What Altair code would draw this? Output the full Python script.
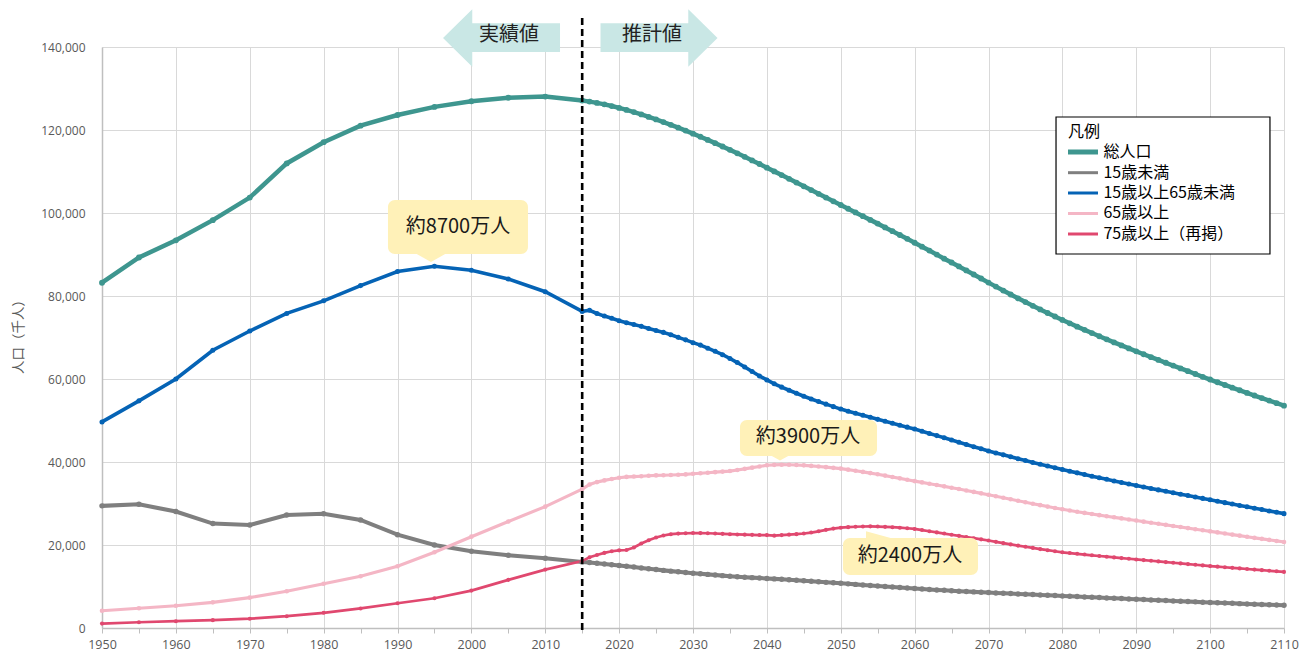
import altair as alt
import pandas as pd

FONT = "Noto Sans CJK JP"
NUMFONT = "Open Sans"

# ---------------- data ----------------
hist_years = list(range(1950, 2016, 5))
proj_years = list(range(2016, 2111))

series_names = ["総人口", "15歳未満", "15歳以上65歳未満", "65歳以上", "75歳以上（再掲）"]
series_colors = ["#3E968F", "#7F7F7F", "#0563B5", "#F4B6C5", "#E0486F"]

total_hist = [83200, 89276, 93419, 98275, 103720, 111940, 117060, 121049, 123611,
              125570, 126926, 127768, 128057, 127095]
u15_hist = [29428, 29798, 28067, 25166, 24823, 27221, 27507, 26033, 22486, 20014,
            18472, 17521, 16803, 15887]
w_hist = [49658, 54729, 60002, 66928, 71566, 75807, 78835, 82506, 85904, 87165,
          86220, 84092, 81032, 76289]
o65_hist = [4155, 4747, 5350, 6181, 7331, 8865, 10647, 12468, 14895, 18261, 22005,
            25672, 29246, 33465]
o75_hist = [1069, 1388, 1637, 1894, 2237, 2841, 3660, 4712, 5973, 7170, 9008,
            11602, 14072, 16125]

total_proj = [
    126838, 126532, 126177, 125773, 125325,
    124836, 124310, 123751, 123161, 122544,
    121903, 121240, 120555, 119850, 119125,
    118380, 117616, 116833, 116033, 115216,
    114383, 113535, 112674, 111801, 110919,
    110028, 109131, 108229, 107326, 106421,
    105518, 104616, 103716, 102819, 101923,
    101029, 100135, 99240, 98342, 97441,
    96534, 95622, 94704, 93776, 92840,
    91894, 90938, 89973, 88999, 88077,
    87120, 86160, 85190, 84210, 83227,
    82260, 81310, 80370, 79440, 78530,
    77640, 76760, 75900, 75060, 74230,
    73420, 72620, 71840, 71070, 70310,
    69560, 68820, 68090, 67370, 66660,
    65960, 65270, 64590, 63910, 63240,
    62560, 61880, 61200, 60530, 59870,
    59210, 58560, 57920, 57280, 56650,
    56020, 55400, 54790, 54180, 53580,
]
u15_proj = [
    15780, 15592, 15424, 15254, 15075,
    14883, 14681, 14476, 14272, 14073,
    13883, 13702, 13530, 13367, 13212,
    13064, 12920, 12779, 12618, 12457,
    12344, 12237, 12136, 12037, 11936,
    11834, 11729, 11619, 11504, 11384,
    11259, 11130, 10999, 10883, 10767,
    10638, 10508, 10379, 10250, 10123,
    9998, 9876, 9748, 9627, 9508,
    9395, 9287, 9181, 9077, 8975,
    8880, 8790, 8700, 8615, 8530,
    8450, 8370, 8290, 8210, 8130,
    8050, 7970, 7890, 7810, 7730,
    7650, 7570, 7490, 7410, 7330,
    7250, 7170, 7090, 7010, 6930,
    6850, 6770, 6690, 6610, 6530,
    6450, 6375, 6300, 6225, 6150,
    6080, 6010, 5940, 5870, 5800,
    5735, 5670, 5605, 5540, 5480,
]
w_proj = [
    76562, 75782, 75158, 74622, 74058,
    73550, 73130, 72683, 72181, 71701,
    71231, 70645, 70036, 69432, 68754,
    68166, 67420, 66673, 65855, 64942,
    63958, 62899, 61795, 60728, 59777,
    58850, 58036, 57292, 56562, 55845,
    55186, 54555, 53940, 53338, 52750,
    52230, 51740, 51250, 50760, 50276,
    49800, 49330, 48860, 48400, 47928,
    47420, 46890, 46360, 45820, 45291,
    44760, 44220, 43690, 43170, 42660,
    42190, 41720, 41250, 40790, 40340,
    39900, 39470, 39040, 38620, 38200,
    37790, 37380, 36980, 36590, 36200,
    35820, 35440, 35070, 34700, 34340,
    33980, 33630, 33280, 32930, 32590,
    32250, 31910, 31570, 31230, 30890,
    30550, 30210, 29870, 29530, 29200,
    28870, 28540, 28210, 27880, 27560,
]
o65_proj = [
    34591, 35152, 35568, 35887, 36192,
    36404, 36491, 36569, 36678, 36771,
    36811, 36857, 36930, 37012, 37160,
    37290, 37420, 37550, 37690, 37817,
    38080, 38350, 38640, 38930, 39206,
    39315, 39352, 39330, 39270, 39192,
    39060, 38920, 38760, 38590, 38406,
    38160, 37900, 37620, 37330, 37042,
    36720, 36390, 36060, 35730, 35403,
    35090, 34770, 34450, 34130, 33810,
    33480, 33140, 32800, 32450, 32100,
    31740, 31380, 31020, 30660, 30300,
    29950, 29600, 29260, 28930, 28600,
    28300, 28010, 27730, 27460, 27190,
    26930, 26670, 26410, 26150, 25890,
    25630, 25370, 25110, 24850, 24590,
    24330, 24070, 23810, 23550, 23290,
    23030, 22770, 22510, 22250, 21990,
    21730, 21480, 21230, 20980, 20730,
]
o75_proj = [
    17050, 17600, 18100, 18500, 18719,
    18800, 19400, 20350, 21150, 21800,
    22300, 22600, 22750, 22830, 22884,
    22870, 22830, 22770, 22690, 22597,
    22540, 22490, 22440, 22400, 22392,
    22250, 22380, 22500, 22620, 22769,
    23000, 23300, 23650, 23950, 24170,
    24300, 24400, 24460, 24490, 24451,
    24380, 24290, 24170, 24030, 23866,
    23600, 23320, 23040, 22760, 22478,
    22200, 21920, 21640, 21360, 21080,
    20760, 20450, 20150, 19860, 19580,
    19300, 19020, 18750, 18490, 18240,
    18060, 17880, 17700, 17520, 17350,
    17180, 17010, 16840, 16680, 16520,
    16360, 16200, 16040, 15880, 15720,
    15560, 15400, 15240, 15080, 14920,
    14780, 14640, 14500, 14360, 14220,
    14080, 13940, 13800, 13660, 13520,
]

boundary_year = [2015]

# annotations (data coordinates)
arrow_x = [2004.08, 2025.40]
arrow_y = [142170, 142170]
arrow_paths = [
    "M-1,0L-0.5,-0.49L-0.5,-0.25L1,-0.25L1,0.24L-0.5,0.24L-0.5,0.49Z",
    "M1,0L0.5,-0.49L0.5,-0.25L-1,-0.25L-1,0.24L0.5,0.24L0.5,0.49Z",
]
arrow_text = ["実績値", "推計値"]
arrow_text_x = [2005.09, 2024.45]
arrow_text_y = [142890, 142890]

callout_text = ["約8700万人", "約3900万人", "約2400万人"]
callout_text_x = [1998.19, 2045.57, 2059.37]
callout_text_y = [96627, 46024, 17349]
callout_x1 = [1988.71, 2036.36, 2050.30]
callout_x2 = [2007.66, 2054.91, 2068.58]
callout_y1 = [103133, 50120, 21687]
callout_y2 = [90120, 41446, 12771]
pointer_x = [1994.53, 2041.78, 2055.52]
pointer_y = [90361, 41687, 21446]
pointer_paths = ["M-1,0L1,0L0,0.56Z", "M-1,0L1,0L0,0.56Z", "M-1,0.05L-1,-0.5L1,0.05Z"]
pointer_sizes = [1024, 400, 961]

# legend (drawn as marks)
legend_title = "凡例"
legend_title_pos = (2080.76, 119518)
legend_box_x = [2079.14, 2108.10]
legend_box_y = [123133, 90120]
legend_line_x = [2080.76, 2084.82]
legend_label_x = 2085.55
legend_row_y = [114699, 109711, 104819, 99880, 94940]
legend_widths = [5, 3, 3, 3, 3]

# ---------------- tables ----------------
hists = [total_hist, u15_hist, w_hist, o65_hist, o75_hist]
projs = [total_proj, u15_proj, w_proj, o65_proj, o75_proj]
rows = []
for name, h, p in zip(series_names, hists, projs):
    assert len(h) == len(hist_years) and len(p) == len(proj_years)
    for yr, v in zip(hist_years + proj_years, h + p):
        rows.append({"year": yr, "value": v, "series": name})
df = pd.DataFrame(rows)

x_scale = alt.Scale(domain=[1950, 2110], nice=False, zero=False)
y_scale = alt.Scale(domain=[0, 140000], nice=False)

x_axis = alt.Axis(
    title=None,
    values=list(range(1950, 2111, 5)),
    labelExpr="datum.value % 10 === 0 ? '' + datum.value : ''",
    gridOpacity={"condition": {"test": "datum.value % 10 === 0", "value": 1}, "value": 0},
    gridColor="#D9D9D9",
    tickSize=5,
    tickColor="#BFBFBF",
    domainColor="#BFBFBF",
    domainWidth=1.5,
    labelFont=NUMFONT,
    labelFontSize=12.5,
    labelColor="#595959",
    labelPadding=5,
    labelFlush=False,
    labelOverlap=False,
)
y_axis = alt.Axis(
    title="人口（千人）",
    titleFont=FONT,
    titleFontSize=13.5,
    titleFontWeight="normal",
    titleColor="#595959",
    titleAngle=-90,
    titleX=-84,
    titleY=286,
    titleAlign="center",
    titleBaseline="middle",
    values=list(range(0, 140001, 20000)),
    labelExpr="format(datum.value, ',')",
    ticks=False,
    gridColor="#D9D9D9",
    domainColor="#BFBFBF",
    domainWidth=1.5,
    labelFont=NUMFONT,
    labelFontSize=12,
    labelColor="#595959",
    labelPadding=17,
)

def X(field):
    return alt.X(field, type="quantitative", scale=x_scale, axis=x_axis)

def Y(field):
    return alt.Y(field, type="quantitative", scale=y_scale, axis=y_axis)

color_scale = alt.Scale(domain=series_names, range=series_colors)

base = alt.Chart(df)

lines = base.mark_line(interpolate="linear").encode(
    x=X("year"),
    y=Y("value"),
    color=alt.Color("series:N", scale=color_scale, legend=None),
    strokeWidth=alt.StrokeWidth("series:N", scale=alt.Scale(domain=series_names, range=[4.5, 2.7, 2.7, 2.7, 2.7]), legend=None),
    detail="series:N",
)

points = base.mark_circle(opacity=1).encode(
    x=X("year"),
    y=Y("value"),
    fill=alt.Fill("series:N", scale=alt.Scale(domain=series_names, range=series_colors), legend=None),
    size=alt.Size("series:N", scale=alt.Scale(domain=series_names, range=[34, 17, 17, 17, 17]), legend=None),
)

legend_box = alt.Chart(pd.DataFrame({"year": [legend_box_x[0]], "year2": [legend_box_x[1]],
                                     "value": [legend_box_y[0]], "value2": [legend_box_y[1]]})).mark_rect(
    fill="white", stroke="black", strokeWidth=1.2
).encode(x=X("year"), x2="year2", y=Y("value"), y2="value2")

legend_df = pd.DataFrame({
    "series": series_names,
    "year": [legend_line_x[0]] * 5,
    "year2": [legend_line_x[1]] * 5,
    "labx": [legend_label_x] * 5,
    "value": legend_row_y,
    "w": legend_widths,
    "c": series_colors,
})
legend_lines = alt.Chart(legend_df).mark_rule().encode(
    x=X("year"), x2="year2", y=Y("value"),
    color=alt.Color("c:N", scale=None),
    strokeWidth=alt.StrokeWidth("w:Q", scale=None),
)
legend_labels = alt.Chart(legend_df).mark_text(
    font=FONT, fontSize=16, color="black", align="left", baseline="middle"
).encode(x=X("labx"), y=Y("value"), text="series:N")
legend_head = alt.Chart(pd.DataFrame({"year": [legend_title_pos[0]], "value": [legend_title_pos[1]],
                                      "label": [legend_title]})).mark_text(
    font=FONT, fontSize=16, color="black", align="left", baseline="middle"
).encode(x=X("year"), y=Y("value"), text="label:N")

divider = alt.Chart(pd.DataFrame({"year": boundary_year})).mark_rule(
    color="black", strokeWidth=2.6, strokeDash=[7, 4]
).encode(x=X("year"), y=alt.value(-29), y2=alt.value(584))

arrows = alt.Chart(pd.DataFrame({"year": arrow_x, "value": arrow_y, "path": arrow_paths})).mark_point(
    filled=True, size=13689, color="#C9E7E5", opacity=1, strokeWidth=0
).encode(x=X("year"), y=Y("value"), shape=alt.Shape("path:N", scale=None))

arrow_labels = alt.Chart(pd.DataFrame({"year": arrow_text_x, "value": arrow_text_y, "label": arrow_text})).mark_text(
    font=FONT, fontSize=20, color="#222222", align="center", baseline="middle"
).encode(x=X("year"), y=Y("value"), text="label:N")

callout_boxes = alt.Chart(pd.DataFrame({"year": callout_x1, "year2": callout_x2,
                                        "value": callout_y1, "value2": callout_y2})).mark_rect(
    color="#FFF1B8", cornerRadius=7
).encode(x=X("year"), x2="year2", y=Y("value"), y2="value2")

pointers = alt.Chart(pd.DataFrame({"year": pointer_x, "value": pointer_y, "path": pointer_paths,
                                   "sz": pointer_sizes})).mark_point(
    filled=True, color="#FFF1B8", opacity=1, strokeWidth=0
).encode(x=X("year"), y=Y("value"), shape=alt.Shape("path:N", scale=None),
         size=alt.Size("sz:Q", scale=None))

callout_labels = alt.Chart(pd.DataFrame({"year": callout_text_x, "value": callout_text_y,
                                         "label": callout_text})).mark_text(
    font=FONT, fontSize=20, color="#1A1A1A", align="center", baseline="middle"
).encode(x=X("year"), y=Y("value"), text="label:N")

chart = alt.layer(
    lines, points, legend_box, legend_lines, legend_labels, legend_head,
    divider, arrows, arrow_labels, pointers, callout_boxes, callout_labels
).properties(
    width=1182,
    height=581,
    autosize=alt.AutoSizeParams(type="none"),
    padding={"left": 102, "top": 47, "right": 24, "bottom": 25},
    background="white",
).configure_view(strokeWidth=0)

chart.save("out.html", embed_options={"renderer": "svg", "actions": False})
